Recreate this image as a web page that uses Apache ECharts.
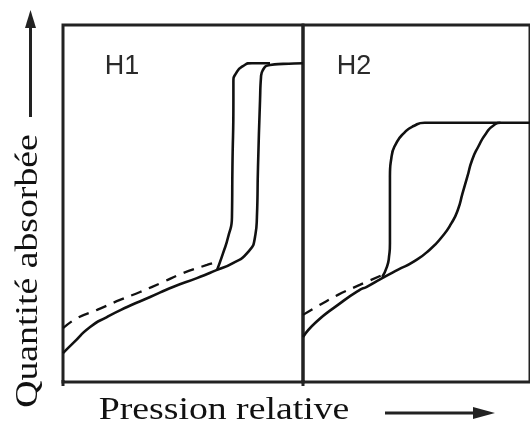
<!DOCTYPE html>
<html><head><meta charset="utf-8">
<script src="https://cdn.jsdelivr.net/npm/echarts@6/dist/echarts.min.js"></script>
<style>html,body{margin:0;padding:0;background:#fff}#c{width:530px;height:428px}</style>
</head><body><div id="c"></div>
<script>
// H1 panel (relative pressure 0..1, amount adsorbed 0..1)
const h1Adsorption = [[0,0.081],[0.042,0.109],[0.113,0.154],[0.183,0.182],[0.267,0.210],[0.363,0.238],[0.458,0.266],[0.558,0.291],[0.642,0.314],[0.708,0.333],[0.767,0.361],[0.800,0.406],[0.808,0.462],[0.8125,0.602],[0.821,0.790],[0.825,0.854],[0.833,0.874],[0.8625,0.888],[0.917,0.891],[1.0,0.893]];
const h1Desorption = [[0.642,0.314],[0.667,0.361],[0.688,0.406],[0.704,0.462],[0.706,0.602],[0.710,0.790],[0.710,0.840],[0.722,0.866],[0.750,0.885],[0.7875,0.893],[0.8625,0.893]];
const h1Dashed = [[0,0.151],[0.058,0.179],[0.142,0.202],[0.2375,0.230],[0.321,0.252],[0.417,0.280],[0.5,0.305],[0.6,0.328],[0.625,0.333]];
// H2 panel
const h2Adsorption = [[0,0.126],[0.058,0.168],[0.154,0.216],[0.25,0.258],[0.279,0.266],[0.349,0.291],[0.417,0.314],[0.4875,0.337],[0.557,0.370],[0.6125,0.407],[0.654,0.445],[0.682,0.482],[0.703,0.529],[0.724,0.575],[0.745,0.622],[0.772,0.659],[0.807,0.697],[0.842,0.720],[0.870,0.726],[1.0,0.726]];
const h2Desorption = [[0.349,0.294],[0.370,0.323],[0.379,0.351],[0.383,0.389],[0.383,0.482],[0.383,0.575],[0.390,0.631],[0.411,0.669],[0.446,0.698],[0.4875,0.717],[0.536,0.726],[0.870,0.726]];
const h2Dashed = [[0,0.188],[0.058,0.210],[0.154,0.244],[0.25,0.272],[0.35,0.300]];
const panelLabels = ['H1','H2'];
const xTitle = 'Pression relative';
const yTitle = 'Quantité absorbée';

const chart = echarts.init(document.getElementById('c'), null, {renderer:'canvas'});
const ink = '#111';
function axisX(i){return {type:'value',gridIndex:i,min:0,max:1,show:false};}
function axisY(i){return {type:'value',gridIndex:i,min:0,max:1,show:false};}
function solid(data,i){return {type:'line',xAxisIndex:i,yAxisIndex:i,data:data,smooth:0.6,symbol:'none',lineStyle:{color:ink,width:2.6},silent:true,animation:false};}
function dashed(data,i){return {type:'line',xAxisIndex:i,yAxisIndex:i,data:data,smooth:0.4,symbol:'none',lineStyle:{color:ink,width:2.3,type:[11,8]},silent:true,animation:false};}
chart.setOption({
  animation:false,
  grid:[
    {left:63,top:25,width:240,height:357,show:true,borderColor:'#222',borderWidth:3,backgroundColor:'transparent'},
    {left:303,top:25,width:240,height:357,show:true,borderColor:'#222',borderWidth:3,backgroundColor:'transparent'}
  ],
  xAxis:[axisX(0),axisX(1)],
  yAxis:[axisY(0),axisY(1)],
  series:[
    solid(h1Adsorption,0),solid(h1Desorption,0),dashed(h1Dashed,0),
    solid(h2Adsorption,1),solid(h2Desorption,1),dashed(h2Dashed,1)
  ],
  graphic:[
    {type:'text',x:122,y:67,style:{text:panelLabels[0],font:'27px "Liberation Sans", Arial, sans-serif',fill:'#2a2a2a',align:'center',verticalAlign:'middle'}},
    {type:'text',x:354,y:67,style:{text:panelLabels[1],font:'27px "Liberation Sans", Arial, sans-serif',fill:'#2a2a2a',align:'center',verticalAlign:'middle'}},
    {type:'text',x:224,y:411,scaleX:1.18,style:{text:xTitle,font:'32px "Liberation Serif", "Times New Roman", serif',fill:ink,align:'center',verticalAlign:'middle'}},
    {type:'text',x:29,y:271,rotation:Math.PI/2,scaleX:1.18,style:{text:yTitle,font:'32px "Liberation Serif", "Times New Roman", serif',fill:ink,align:'center',verticalAlign:'middle'}},
    {type:'line',shape:{x1:30.5,y1:117,x2:30.5,y2:24},style:{stroke:'#222',lineWidth:3}},
    {type:'polygon',shape:{points:[[25,28],[36,28],[30.5,10]]},style:{fill:'#222'}},
    {type:'line',shape:{x1:385,y1:413,x2:478,y2:413},style:{stroke:'#222',lineWidth:3}},
    {type:'polygon',shape:{points:[[473,407],[473,419],[495,413]]},style:{fill:'#222'}},
    {type:'line',shape:{x1:63,y1:380,x2:63,y2:386},style:{stroke:'#222',lineWidth:3}},
    {type:'line',shape:{x1:303,y1:380,x2:303,y2:386},style:{stroke:'#222',lineWidth:3}}
  ]
});
</script></body></html>
